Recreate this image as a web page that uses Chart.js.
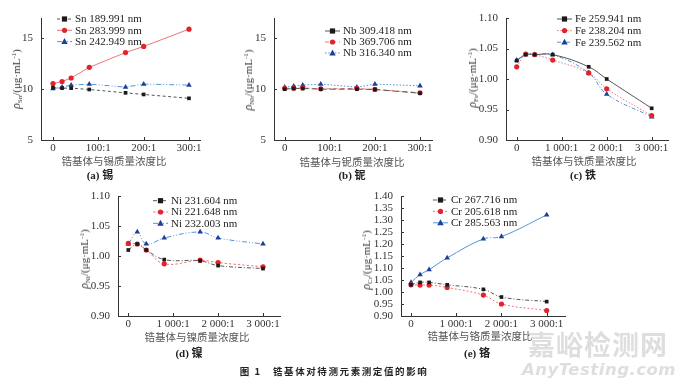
<!DOCTYPE html>
<html><head><meta charset="utf-8">
<script src="https://cdn.jsdelivr.net/npm/chart.js@4/dist/chart.umd.min.js"></script>
<style>
html,body{margin:0;padding:0;background:#fff;width:680px;height:387px;overflow:hidden;}
body{position:relative;}
canvas{position:absolute;}
.t{position:absolute;transform:translate(-50%,-50%);white-space:nowrap;line-height:1;}
.xt{font-family:"Noto Sans CJK SC";font-size:10.5px;color:#555;}
.yt{font-family:"Liberation Serif";font-size:11px;color:#333;transform:translate(-50%,-50%) rotate(-90deg);}
.yt i{font-size:12px;}
.yt sub{font-size:7px;vertical-align:-2px;}
.yt sup{font-size:7px;vertical-align:4px;}
.cap{font-family:"Liberation Serif","Noto Sans CJK SC";font-weight:bold;font-size:11px;color:#222;}
.cap span{font-family:"Noto Sans CJK SC";}
.fig{font-family:"Noto Sans CJK SC";font-weight:bold;font-size:9.5px;letter-spacing:1.6px;color:#222;}
.wm1{font-family:"Noto Sans CJK SC";font-weight:bold;font-size:27px;color:#dedede;letter-spacing:1px;}
.wm2{font-family:"DejaVu Sans";font-weight:bold;font-style:italic;font-size:16.5px;color:#dedede;letter-spacing:0.5px;}
</style></head><body>
<script>
// ---- tick labels ----
const ratioSmall = [0, 100, 200, 300];
const ratioSmallLabels = ['0', '100:1', '200:1', '300:1'];
const ratioLarge = [0, 1000, 2000, 3000];
const ratioLargeLabels = ['0', '1 000:1', '2 000:1', '3 000:1'];
const yTicksSnNb = [5, 10, 15];
const yTicksFeNi = [0.90, 0.95, 1.00, 1.05, 1.10];
const yTicksCr = [0.90, 0.95, 1.00, 1.05, 1.10, 1.15, 1.20, 1.25, 1.30, 1.35, 1.40];

// ---- (a) Sn ----
const snRatio = [0, 20, 40, 80, 160, 200, 300];
const sn189 = [10.15, 10.1, 10.1, 9.97, 9.64, 9.48, 9.1];
const sn283 = [10.55, 10.75, 11.1, 12.15, 13.6, 14.2, 15.9];
const sn242 = [10.05, 10.2, 10.4, 10.5, 10.2, 10.5, 10.4];
// ---- (b) Nb ----
const nbRatio = [0, 20, 40, 80, 160, 200, 300];
const nb309 = [10.0, 10.07, 10.07, 10.0, 10.0, 9.97, 9.6];
const nb369 = [10.07, 10.1, 10.13, 10.03, 10.07, 9.97, 9.65];
const nb316 = [10.2, 10.3, 10.4, 10.5, 10.2, 10.5, 10.33];
// ---- (c) Fe ----
const feRatio = [0, 200, 400, 800, 1600, 2000, 3000];
const fe259 = [1.03, 1.04, 1.04, 1.04, 1.02, 1.00, 0.952];
const fe238 = [1.02, 1.041, 1.04, 1.031, 1.01, 0.984, 0.94];
const fe239 = [1.031, 1.04, 1.04, 1.04, 1.01, 0.975, 0.938];
// ---- (d) Ni ----
const niRatio = [0, 200, 400, 800, 1600, 2000, 3000];
const ni231 = [1.01, 1.02, 1.01, 0.994, 0.992, 0.984, 0.979];
const ni221 = [1.021, 1.02, 1.01, 0.987, 0.993, 0.989, 0.982];
const ni232 = [1.02, 1.04, 1.02, 1.03, 1.04, 1.03, 1.02];
// ---- (e) Cr ----
const crRatio = [0, 200, 400, 800, 1600, 2000, 3000];
const cr267 = [1.03, 1.04, 1.04, 1.03, 1.011, 0.979, 0.96];
const cr205 = [1.03, 1.029, 1.029, 1.019, 0.987, 0.95, 0.923];
const cr285 = [1.04, 1.072, 1.093, 1.142, 1.221, 1.231, 1.321];

const COL = {
  k: {m: '#1a1a1a', l: '#555555', s: 'rect', r: 2.6},
  r: {m: '#e3222a', l: '#f07478', s: 'circle', r: 2.6},
  b: {m: '#1d3f98', l: '#4f95da', s: 'triangle', r: 3.2}
};

function drawMarker(ctx, style, x, y, r, color) {
  ctx.fillStyle = color;
  ctx.beginPath();
  if (style === 'rect') { ctx.rect(x - r, y - r, 2 * r, 2 * r); }
  else if (style === 'circle') { ctx.arc(x, y, r, 0, Math.PI * 2); }
  else { ctx.moveTo(x, y - r * 1.1); ctx.lineTo(x + r, y + r * 0.75); ctx.lineTo(x - r, y + r * 0.75); ctx.closePath(); }
  ctx.fill();
}

const decor = {
  id: 'decor',
  afterDraw(chart, args, o) {
    const ctx = chart.ctx, ca = chart.chartArea;
    const xs = chart.scales.x, ys = chart.scales.y;
    ctx.save();
    ctx.strokeStyle = '#333'; ctx.lineWidth = 1;
    xs.ticks.forEach(t => {
      const px = Math.round(xs.getPixelForValue(t.value)) + 0.5;
      ctx.beginPath(); ctx.moveTo(px, ca.bottom); ctx.lineTo(px, ca.bottom - 3); ctx.stroke();
    });
    ys.ticks.forEach(t => {
      const py = Math.round(ys.getPixelForValue(t.value)) + 0.5;
      ctx.beginPath(); ctx.moveTo(ca.left, py); ctx.lineTo(ca.left + 3, py); ctx.stroke();
    });
    const L = o.legend;
    chart.data.datasets.forEach((ds, i) => {
      const y = L.y + i * L.dy, x0 = L.x, x1 = L.x + 15;
      ctx.strokeStyle = ds.borderColor; ctx.lineWidth = 1;
      ctx.setLineDash(ds.legendDash || []);
      ctx.beginPath(); ctx.moveTo(x0, y); ctx.lineTo(x1, y); ctx.stroke();
      ctx.setLineDash([]);
      drawMarker(ctx, ds.pointStyle, (x0 + x1) / 2, y, ds.pointRadius, ds.pointBackgroundColor);
      ctx.fillStyle = '#222'; ctx.font = '11px "Liberation Serif"';
      ctx.textBaseline = 'middle'; ctx.textAlign = 'left';
      ctx.fillText(ds.label, x1 + 3, y + 0.5);
    });
    ctx.restore();
  }
};

function panel(p) {
  const cl = p.L - 40, ct = p.T - 18;
  const W = p.R - p.L + 52, H = p.B - p.T + 18 + 17;
  const cv = document.createElement('canvas');
  cv.width = W; cv.height = H;
  cv.style.left = cl + 'px'; cv.style.top = ct + 'px';
  cv.style.width = W + 'px'; cv.style.height = H + 'px';
  document.body.appendChild(cv);
  const datasets = p.series.map(s => {
    const c = COL[s.c];
    const d = {
      label: s.label,
      data: s.x.map((v, i) => ({x: v, y: s.y[i]})),
      borderColor: c.l, borderWidth: 1, borderDash: s.dash || [],
      legendDash: s.dash || [],
      pointStyle: c.s, pointRadius: c.r, pointBackgroundColor: c.m, pointBorderColor: c.m, pointBorderWidth: 0,
      tension: p.tension, fill: false, clip: false
    };
    if (s.seg) d.segment = {borderDash: ctx => (s.seg.idx.includes(ctx.p0DataIndex) ? s.seg.dash : undefined)};
    return d;
  });
  const tickFont = {family: 'Liberation Serif', size: 11};
  new Chart(cv, {
    type: 'line',
    data: {datasets},
    plugins: [decor],
    options: {
      responsive: false, animation: false, devicePixelRatio: 1,
      layout: {padding: {top: 18, right: 12, left: 0, bottom: 0}},
      plugins: {
        legend: {display: false}, tooltip: {enabled: false},
        decor: {legend: {x: p.lg.x - cl, y: p.lg.y - ct, dy: p.lg.dy}}
      },
      scales: {
        x: {
          type: 'linear', bounds: 'data', min: p.xmin, max: p.xmax,
          grid: {display: false, drawTicks: false}, border: {color: '#333', width: 1},
          afterBuildTicks: s => { s.ticks = p.xt.map(v => ({value: v})); },
          afterFit: s => { s.height = 17; },
          ticks: {autoSkip: false, maxRotation: 0, padding: 2, color: '#333', font: tickFont,
            callback: v => { const i = p.xt.indexOf(v); return i >= 0 ? p.xl[i] : ''; }}
        },
        y: {
          type: 'linear', bounds: 'data', min: p.ymin, max: p.ymax,
          grid: {display: false, drawTicks: false}, border: {color: '#333', width: 1},
          afterBuildTicks: s => { s.ticks = p.yt.map(v => ({value: v})); },
          afterFit: s => { s.width = 40; },
          ticks: {autoSkip: false, padding: 8, color: '#333', font: tickFont,
            callback: v => v.toFixed(p.dec)}
        }
      }
    }
  });
}

const dashK = [3, 2.5], dashDot = [4, 2, 1, 2], dot = [1.5, 1.8], dashDotDot = [5, 2, 1, 2, 1, 2];

panel({L: 41, R: 200, T: 18, B: 140, xmin: -26.5, xmax: 324.3, ymin: 5, ymax: 17,
  xt: ratioSmall, xl: ratioSmallLabels, yt: yTicksSnNb, dec: 0, tension: 0,
  lg: {x: 57, y: 19, dy: 11.3},
  series: [
    {label: 'Sn 189.991 nm', x: snRatio, y: sn189, c: 'k', dash: dashK},
    {label: 'Sn 283.999 nm', x: snRatio, y: sn283, c: 'r'},
    {label: 'Sn 242.949 nm', x: snRatio, y: sn242, c: 'b', dash: dashDotDot}
  ]});

panel({L: 274, R: 432, T: 18, B: 140, xmin: -23.7, xmax: 326.6, ymin: 5, ymax: 17,
  xt: ratioSmall, xl: ratioSmallLabels, yt: yTicksSnNb, dec: 0, tension: 0,
  lg: {x: 325, y: 31, dy: 11},
  series: [
    {label: 'Nb 309.418 nm', x: nbRatio, y: nb309, c: 'k', dash: [6, 3]},
    {label: 'Nb 369.706 nm', x: nbRatio, y: nb369, c: 'r', dash: [4, 3]},
    {label: 'Nb 316.340 nm', x: nbRatio, y: nb316, c: 'b', dash: dot}
  ]});

panel({L: 506, R: 668, T: 18, B: 140, xmin: -237.8, xmax: 3362, ymin: 0.90, ymax: 1.10,
  xt: ratioLarge, xl: ratioLargeLabels, yt: yTicksFeNi, dec: 2, tension: 0.4,
  lg: {x: 557, y: 19, dy: 11.6},
  series: [
    {label: 'Fe 259.941 nm', x: feRatio, y: fe259, c: 'k'},
    {label: 'Fe 238.204 nm', x: feRatio, y: fe238, c: 'r', dash: dot},
    {label: 'Fe 239.562 nm', x: feRatio, y: fe239, c: 'b', dash: dashDot}
  ]});

panel({L: 118, R: 280, T: 196, B: 316, xmin: -229.4, xmax: 3378.6, ymin: 0.90, ymax: 1.10,
  xt: ratioLarge, xl: ratioLargeLabels, yt: yTicksFeNi, dec: 2, tension: 0.4,
  lg: {x: 153, y: 200.7, dy: 11.3},
  series: [
    {label: 'Ni 231.604 nm', x: niRatio, y: ni231, c: 'k', dash: dashDot},
    {label: 'Ni 221.648 nm', x: niRatio, y: ni221, c: 'r', dash: [2.5, 2]},
    {label: 'Ni 232.003 nm', x: niRatio, y: ni232, c: 'b', dash: dashDotDot}
  ]});

panel({L: 401, R: 565, T: 196, B: 316, xmin: -221, xmax: 3405, ymin: 0.90, ymax: 1.40,
  xt: ratioLarge, xl: ratioLargeLabels, yt: yTicksCr, dec: 2, tension: 0.4,
  lg: {x: 433, y: 200, dy: 11.4},
  series: [
    {label: 'Cr 267.716 nm', x: crRatio, y: cr267, c: 'k', dash: dashDot},
    {label: 'Cr 205.618 nm', x: crRatio, y: cr205, c: 'r', dash: [2, 2]},
    {label: 'Cr 285.563 nm', x: crRatio, y: cr285, c: 'b', seg: {idx: [4], dash: [5, 2, 1, 2]}}
  ]});

// ---- text overlays ----
const texts = [
  ['xt', 114, 161, '锆基体与锡质量浓度比'],
  ['xt', 352, 161.5, '锆基体与铌质量浓度比'],
  ['xt', 584, 161, '锆基体与铁质量浓度比'],
  ['xt', 197, 337, '锆基体与镍质量浓度比'],
  ['xt', 480, 336, '锆基体与铬质量浓度比'],
  ['cap', 100, 174.5, '(a) <span>锡</span>'],
  ['cap', 352, 174.5, '(b) <span>铌</span>'],
  ['cap', 583, 174.5, '(c) <span>铁</span>'],
  ['cap', 189, 352.5, '(d) <span>镍</span>'],
  ['cap', 477, 352.5, '(e) <span>铬</span>'],
  ['yt', 16.5, 79, '<i>ρ</i><sub>Sn</sub>/(μg·mL<sup>-1</sup>)'],
  ['yt', 249, 80, '<i>ρ</i><sub>Nb</sub>/(μg·mL<sup>-1</sup>)'],
  ['yt', 473, 78, '<i>ρ</i><sub>Fe</sub>/(μg·mL<sup>-1</sup>)'],
  ['yt', 85, 259, '<i>ρ</i><sub>Ni</sub>/(μg·mL<sup>-1</sup>)'],
  ['yt', 367, 260, '<i>ρ</i><sub>Cr</sub>/(μg·mL<sup>-1</sup>)'],
  ['wm1', 598, 343, '嘉峪检测网'],
  ['wm2', 599, 370, 'AnyTesting.com'],
  ['fig', 334, 372, '图 1&nbsp;&nbsp;&nbsp;锆基体对待测元素测定值的影响']
];
texts.forEach(([cls, x, y, html]) => {
  const d = document.createElement('div');
  d.className = 't ' + cls;
  d.style.left = x + 'px'; d.style.top = y + 'px';
  d.innerHTML = html;
  document.body.appendChild(d);
});
</script>
</body></html>
